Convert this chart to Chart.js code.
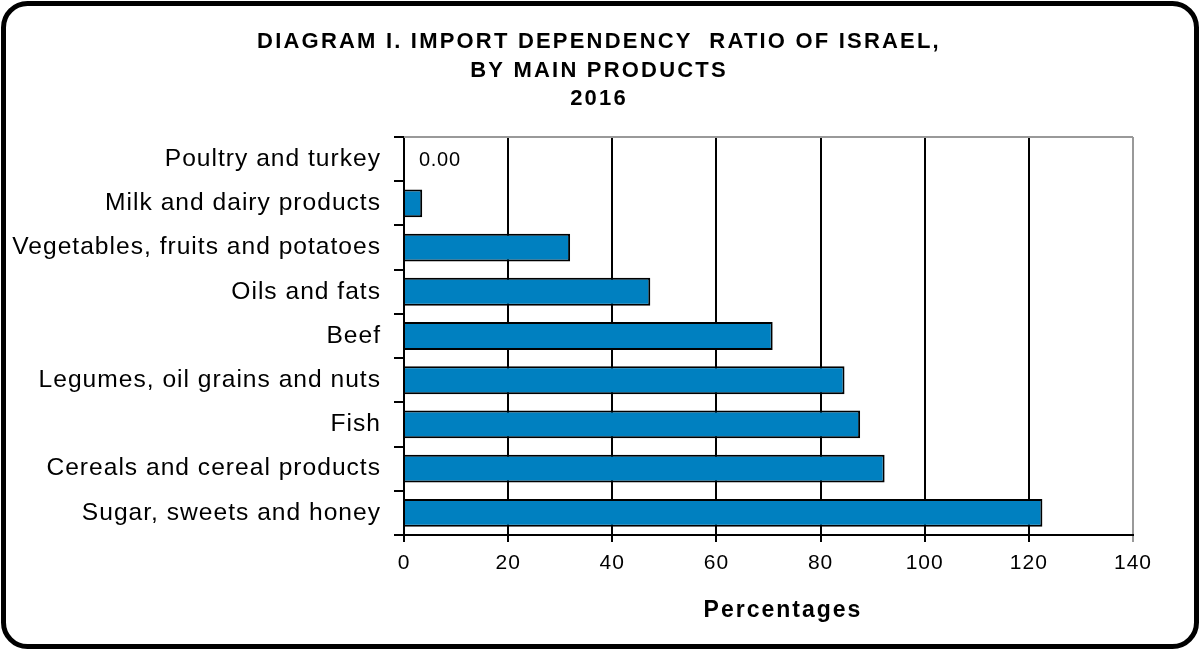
<!DOCTYPE html>
<html><head><meta charset="utf-8">
<script src="https://cdn.jsdelivr.net/npm/chart.js@4"></script>
<style>html,body{margin:0;padding:0;background:#fff}#wrap{width:1200px;height:650px}</style>
</head><body><div id="wrap"><canvas id="c" width="1200" height="650"></canvas></div>
<script>
const titleLines = ["DIAGRAM I. IMPORT DEPENDENCY  RATIO OF ISRAEL,", "BY MAIN PRODUCTS", "2016"];
const categories = ["Poultry and turkey","Milk and dairy products","Vegetables, fruits and potatoes","Oils and fats","Beef","Legumes, oil grains and nuts","Fish","Cereals and cereal products","Sugar, sweets and honey"];
const values = [0, 3.5, 31.9, 47.3, 70.8, 84.6, 87.6, 92.3, 122.6];
const xTicks = [0,20,40,60,80,100,120,140];
const axisTitle = "Percentages";
const FONT = "'Liberation Sans', Arial, sans-serif";

const framePlugin = {
  id:'frame',
  beforeUpdate(chart){ chart.ctx.letterSpacing='1px'; },
  beforeDraw(chart){
    const ctx=chart.ctx;
    ctx.save();
    ctx.fillStyle='#fff'; ctx.fillRect(0,0,chart.width,chart.height);
    ctx.restore();
    ctx.letterSpacing='1px';
  },
  afterDraw(chart){
    const ctx=chart.ctx, a=chart.chartArea; ctx.save();
    ctx.lineWidth=5; ctx.strokeStyle='#000';
    ctx.beginPath(); ctx.roundRect(3.5,3.5,chart.width-7,chart.height-7,24); ctx.stroke();
    ctx.lineWidth=2; ctx.strokeStyle='#999';
    ctx.beginPath(); ctx.moveTo(a.left,a.top); ctx.lineTo(a.right,a.top); ctx.stroke();
    ctx.fillStyle='#000'; ctx.textBaseline='middle';
    ctx.font='bold 22px '+FONT; ctx.textAlign='center'; ctx.letterSpacing='2.2px';
    titleLines.forEach((t,i)=>ctx.fillText(t,599,42+i*28.5));
    // axis title
    ctx.font='bold 23px '+FONT; ctx.letterSpacing='2px';
    ctx.fillText(axisTitle,783,611);
    // data label for zero-value bars
    const meta=chart.getDatasetMeta(0);
    ctx.font='20px '+FONT; ctx.textAlign='left'; ctx.letterSpacing='0.7px';
    values.forEach((v,i)=>{ if(v===0){ const el=meta.data[i]; ctx.fillText(v.toFixed(2), chart.scales.x.getPixelForValue(v)+15, el.y+1);} });
    ctx.restore();
  }
};

new Chart(document.getElementById('c'),{
  type:'bar',
  data:{labels:categories,datasets:[{data:values,backgroundColor:'#0080C0',borderColor:'#000',borderWidth:2,barPercentage:0.63,categoryPercentage:1}]},
  options:{
    indexAxis:'y',responsive:false,animation:false,
    layout:{padding:{top:137,right:67,bottom:0,left:10}},
    plugins:{legend:{display:false},tooltip:{enabled:false},title:{display:false}},
    scales:{
      x:{min:0,max:140,
        afterBuildTicks(s){s.ticks=xTicks.map(v=>({value:v}));},
        afterFit(s){s.height=115;},
        grid:{color:(c)=>c.index===xTicks.length-1?'#999':'#000',lineWidth:2,tickLength:7,drawTicks:true},
        border:{color:'#000',width:2},
        ticks:{color:'#000',font:{family:FONT,size:21},padding:9,maxRotation:0},
        title:{display:false}
      },
      y:{
        afterFit(s){s.width=394;},
        grid:{drawOnChartArea:false,drawTicks:true,tickLength:10,offset:true,color:'#000',lineWidth:2},
        border:{color:'#000',width:2},
        ticks:{color:'#000',font:{family:FONT,size:24.6},padding:13}
      }
    }
  },
  plugins:[framePlugin]
});
</script></body></html>
